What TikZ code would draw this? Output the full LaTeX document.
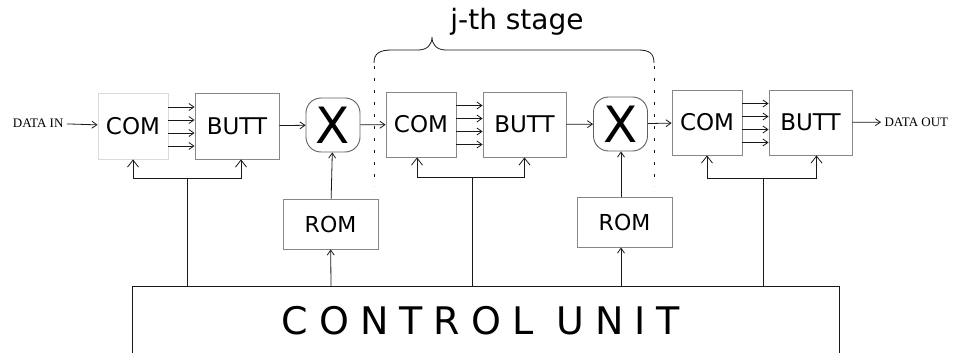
\documentclass[tikz,border=0pt]{standalone}
\usepackage{fontspec}
\setmainfont{DejaVu Sans}
\newfontfamily\datafont{Liberation Serif}
\usetikzlibrary{arrows.meta}
\definecolor{boxgray}{RGB}{135,135,135}
\definecolor{lightgray}{RGB}{218,218,218}
\definecolor{xgray}{RGB}{95,95,95}
\definecolor{wirecol}{RGB}{25,25,25}

\begin{document}
\begin{tikzpicture}[x=1pt,y=-1pt,
  blk/.style={draw=boxgray,line width=0.9pt,inner sep=0pt,font=\fontsize{23}{27}\selectfont},
  mult/.style={draw=xgray,line width=0.9pt,rounded corners=15pt,minimum width=54pt,minimum height=54pt,inner sep=0pt,font=\fontsize{50}{56}\selectfont},
  wire/.style={draw=wirecol,line width=0.8pt},
  sig/.style={wire,-{Straight Barb[length=5pt,width=7pt]}},
  ctl/.style={wire,-{Straight Barb[length=7pt,width=11pt]}}]
\useasboundingbox (0,0) rectangle (954,353);

\node[font=\datafont\fontsize{13}{15}\selectfont,anchor=east] (din) at (67,123) {DATA IN};
\node[blk,draw=lightgray,minimum width=70pt,minimum height=66pt] (com1) at (133,126) {COM};
\node[blk,minimum width=84pt,minimum height=66pt] (butt1) at (237,126) {BUTT};
\node[mult] (x1) at (333,125) {X};
\node[blk,minimum width=70pt,minimum height=65pt] (com2) at (421,124.5) {COM};
\node[blk,minimum width=83pt,minimum height=65pt] (butt2) at (524.5,124.5) {BUTT};
\node[mult] (x2) at (620.5,124) {X};
\node[blk,minimum width=70pt,minimum height=65pt] (com3) at (707,122.5) {COM};
\node[blk,minimum width=83pt,minimum height=65pt] (butt3) at (810.5,122.5) {BUTT};
\node[font=\datafont\fontsize{13}{15}\selectfont,anchor=west] (dout) at (881,122) {DATA OUT};

\node[blk,font=\fontsize{22}{26}\selectfont,minimum width=95pt,minimum height=50pt] (rom1) at (330.5,224) {ROM};
\node[blk,font=\fontsize{22}{26}\selectfont,minimum width=95pt,minimum height=50pt] (rom2) at (624.5,222) {ROM};

\draw[wire] (132,355) -- (132,286) -- (839,286) -- (839,355);
\node[font=\fontsize{38}{44}\selectfont\addfontfeature{LetterSpace=29}] (ctrl) at (481,321) {CONTROL UNIT};

\node[font=\fontsize{28}{32}\selectfont] (stage) at (517,22) {j-th stage};
\draw[wire] (374,63) .. controls (374,53) and (380,50) .. (392,50) -- (418,50) .. controls (427,50) and (432,45) .. (432,37) .. controls (432,45) and (437,50) .. (446,50) -- (638,50) .. controls (649,50) and (654,53) .. (654,63);
\draw[wirecol,line width=0.9pt,dash pattern=on 3pt off 9pt] (374,66) -- (374,186);
\draw[wirecol,line width=0.9pt,dash pattern=on 3pt off 9pt] (654,66) -- (654,186);

\draw[sig] (din) -- (com1);
\draw[sig] (butt1) -- (x1);
\draw[sig] (x1) -- (com2);
\draw[sig] (butt2) -- (x2);
\draw[sig] (x2) -- (com3);
\draw[sig] (butt3) -- (dout);
\foreach \o in {-20,-7,6,19} {
  \draw[sig] ([yshift=\o pt]com1.east) -- ([yshift=\o pt]butt1.west);
  \draw[sig] ([yshift=\o pt]com2.east) -- ([yshift=\o pt]butt2.west);
  \draw[sig] ([yshift=\o pt]com3.east) -- ([yshift=\o pt]butt3.west);
}

\coordinate (c1) at (187,286);
\coordinate (c2) at (472,286);
\coordinate (c3) at (763,286);
\coordinate (r1) at (331,286);
\coordinate (r2) at (621,286);
\coordinate (j1) at (187,178);
\coordinate (j2) at (472,177);
\coordinate (j3) at (763,178);

\draw[wire] (c1) -- (j1);
\draw[ctl] (j1) -| (com1.south);
\draw[ctl] (j1) -| ([xshift=4pt]butt1.south);
\draw[wire] (c2) -- (j2);
\draw[ctl] (j2) -| ([xshift=-4pt]com2.south);
\draw[ctl] (j2) -| (butt2.south);
\draw[wire] (c3) -- (j3);
\draw[ctl] (j3) -| (com3.south);
\draw[ctl] (j3) -| ([xshift=6pt]butt3.south);

\draw[sig] (r1) -- (rom1);
\draw[sig] (rom1) -- (x1);
\draw[sig] (r2) -- (rom2.south -| r2);
\draw[sig] (rom2.north -| r2) -- (x2.south -| r2);

\end{tikzpicture}
\end{document}
